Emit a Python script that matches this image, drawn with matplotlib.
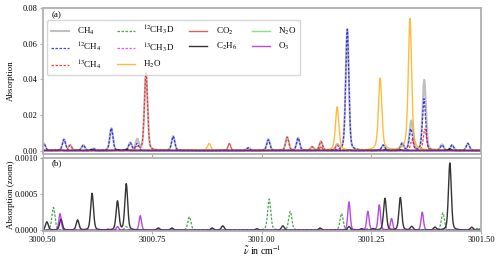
import numpy as np
from matplotlib import pyplot as plt

plt.rcParams['font.family'] = ['Liberation Serif', 'DejaVu Serif']
plt.rcParams['mathtext.fontset'] = 'stix'
plt.rcParams['font.size'] = 6.5

# line lists: (wavenumber in cm-1, peak absorption)
ch4_12_pos = [3000.503, 3000.549, 3000.593, 3000.616, 3000.657, 3000.700, 3000.716, 3000.798,
              3000.969, 3001.015, 3001.083, 3001.195, 3001.277, 3001.320, 3001.340, 3001.370,
              3001.411, 3001.434, 3001.470]
ch4_12_val = [0.004, 0.0062, 0.003, 0.001, 0.0125, 0.0042, 0.004, 0.008,
              0.0015, 0.006, 0.007, 0.068, 0.003, 0.004, 0.012, 0.029,
              0.003, 0.003, 0.004]
ch4_13_pos = [3000.563, 3000.716, 3000.736, 3001.058, 3001.115, 3001.135, 3001.172, 3001.343, 3001.372]
ch4_13_val = [0.003, 0.002, 0.0435, 0.0075, 0.002, 0.005, 0.003, 0.006, 0.012]
ch3d_12_pos = [3000.525, 3000.691, 3000.835, 3001.017, 3001.065, 3001.182, 3001.413, 3001.493]
ch3d_12_val = [0.000315, 0.00005, 0.000185, 0.00043, 0.00026, 0.00023, 0.00024, 0.00003]
ch3d_13_pos = [3000.650, 3001.240]
ch3d_13_val = [0.00002, 0.00002]
h2o_pos = [3000.880, 3001.172, 3001.270, 3001.338]
h2o_val = [0.004, 0.0245, 0.0405, 0.074]
co2_pos = [3000.926, 3001.135]
co2_val = [0.004, 0.002]
c2h6_pos = [3000.510, 3000.542, 3000.580, 3000.613, 3000.671, 3000.691, 3000.764, 3000.795,
            3000.887, 3000.911, 3000.989, 3001.048, 3001.133, 3001.199, 3001.228, 3001.254,
            3001.281, 3001.316, 3001.342, 3001.395, 3001.429, 3001.479]
c2h6_val = [0.000115, 0.00015, 0.00014, 0.00051, 0.0004, 0.00064, 0.00003, 0.00003,
            0.00003, 0.00006, 0.00002, 0.00006, 0.00003, 0.00005, 0.00002, 0.00002,
            0.00044, 0.00045, 0.00005, 0.00004, 0.00093, 0.00004]
n2o_pos = [3001.495]
n2o_val = [0.00002]
o3_pos = [3000.540, 3000.671, 3000.723, 3001.199, 3001.242, 3001.268, 3001.296, 3001.366]
o3_val = [0.00023, 0.00005, 0.0002, 0.00039, 0.00026, 0.00035, 0.00016, 0.00025]


def spectrum(nu, pos, val, hw, eta=0.3):
    """pseudo-Voigt line-by-line sum"""
    out = np.zeros_like(nu)
    for p, v in zip(pos, val):
        d = (nu - p) / hw
        out += v * ((1 - eta) * np.exp(-np.log(2) * d ** 2) + eta / (1 + d ** 2))
    return out


nu = np.linspace(3000.5, 3001.5, 3001)
s_12ch4 = spectrum(nu, ch4_12_pos, ch4_12_val, 0.0042)
s_13ch4 = spectrum(nu, ch4_13_pos, ch4_13_val, 0.0042)
s_12ch3d = spectrum(nu, ch3d_12_pos, ch3d_12_val, 0.0042)
s_13ch3d = spectrum(nu, ch3d_13_pos, ch3d_13_val, 0.0042)
s_ch4 = s_12ch4 + s_13ch4 + s_12ch3d + s_13ch3d
s_h2o = spectrum(nu, h2o_pos, h2o_val, 0.0045, eta=0.5)
s_co2 = spectrum(nu, co2_pos, co2_val, 0.0035)
s_c2h6 = spectrum(nu, c2h6_pos, c2h6_val, 0.0038)
s_n2o = spectrum(nu, n2o_pos, n2o_val, 0.0035)
s_o3 = spectrum(nu, o3_pos, o3_val, 0.0032)

fine = (0, (2.0, 1.2))
styles = [
    ('CH$_4$', s_ch4, dict(color='gray', ls='-', lw=1.5, alpha=0.5)),
    ('$^{12}$CH$_4$', s_12ch4, dict(color='blue', ls=fine, lw=0.9, alpha=0.75)),
    ('$^{13}$CH$_4$', s_13ch4, dict(color='red', ls=fine, lw=0.9, alpha=0.75)),
    ('$^{12}$CH$_3$D', s_12ch3d, dict(color='green', ls=fine, lw=0.9, alpha=0.7)),
    ('$^{13}$CH$_3$D', s_13ch3d, dict(color='magenta', ls=fine, lw=0.9, alpha=0.7)),
    ('H$_2$O', s_h2o, dict(color='orange', ls='-', lw=1.0, alpha=0.75)),
    ('CO$_2$', s_co2, dict(color='#d62728', ls='-', lw=1.0, alpha=0.75)),
    ('C$_2$H$_6$', s_c2h6, dict(color='black', ls='-', lw=1.0, alpha=0.8)),
    ('N$_2$O', s_n2o, dict(color='limegreen', ls='-', lw=1.0, alpha=0.6)),
    ('O$_3$', s_o3, dict(color='darkviolet', ls='-', lw=1.0, alpha=0.7)),
]
minor = ['$^{12}$CH$_3$D', '$^{13}$CH$_3$D', 'C$_2$H$_6$', 'N$_2$O', 'O$_3$']

fig = plt.figure(figsize=(5.0, 2.56), dpi=100)
ax1 = fig.add_axes([0.085, 0.398, 0.877, 0.571])
ax2 = fig.add_axes([0.085, 0.098, 0.877, 0.285], sharex=ax1)

for label, y, kw in styles:
    ax1.plot(nu, y, label=label, **kw)
    if label in minor:
        ax2.plot(nu, y, **kw)

ax1.set_xlim(3000.5, 3001.5)
ax1.set_ylim(-0.002, 0.08)
ax1.set_yticks([0.0, 0.02, 0.04, 0.06, 0.08])
ax2.set_ylim(-0.00001, 0.001)
ax2.set_yticks([0.0, 0.0005, 0.001])
ax2.set_xticks([3000.5, 3000.75, 3001.0, 3001.25, 3001.5])
ax1.tick_params(labelbottom=False)

for ax in (ax1, ax2):
    for sp in ax.spines.values():
        sp.set_color('#b0b0b0')
        sp.set_linewidth(1.3)
    ax.tick_params(colors='#b0b0b0', labelcolor='black', length=2.0, width=0.8,
                   pad=1.5, labelsize=6)

ax1.set_ylabel('Absorption', fontsize=6.5)
ax2.set_ylabel('Absorption (zoom)', fontsize=6.5)
ax2.set_xlabel(r'$\tilde{\nu}$ in cm$^{-1}$', fontsize=7, labelpad=0)
ax1.yaxis.set_label_coords(-0.063, 0.5)
ax2.yaxis.set_label_coords(-0.063, 0.5)

ax1.text(0.021, 0.952, '(a)', transform=ax1.transAxes, ha='left', va='center', fontsize=6.5)
ax2.text(0.021, 0.93, '(b)', transform=ax2.transAxes, ha='left', va='center', fontsize=6.5)

ax1.legend(loc='upper left', bbox_to_anchor=(0.0, 0.945), ncol=4, fontsize=6.5,
           handlelength=2.0, handletextpad=0.9, columnspacing=1.7, labelspacing=0.45,
           borderpad=0.4, framealpha=0.8)

fig.savefig('out.png', dpi=100)
